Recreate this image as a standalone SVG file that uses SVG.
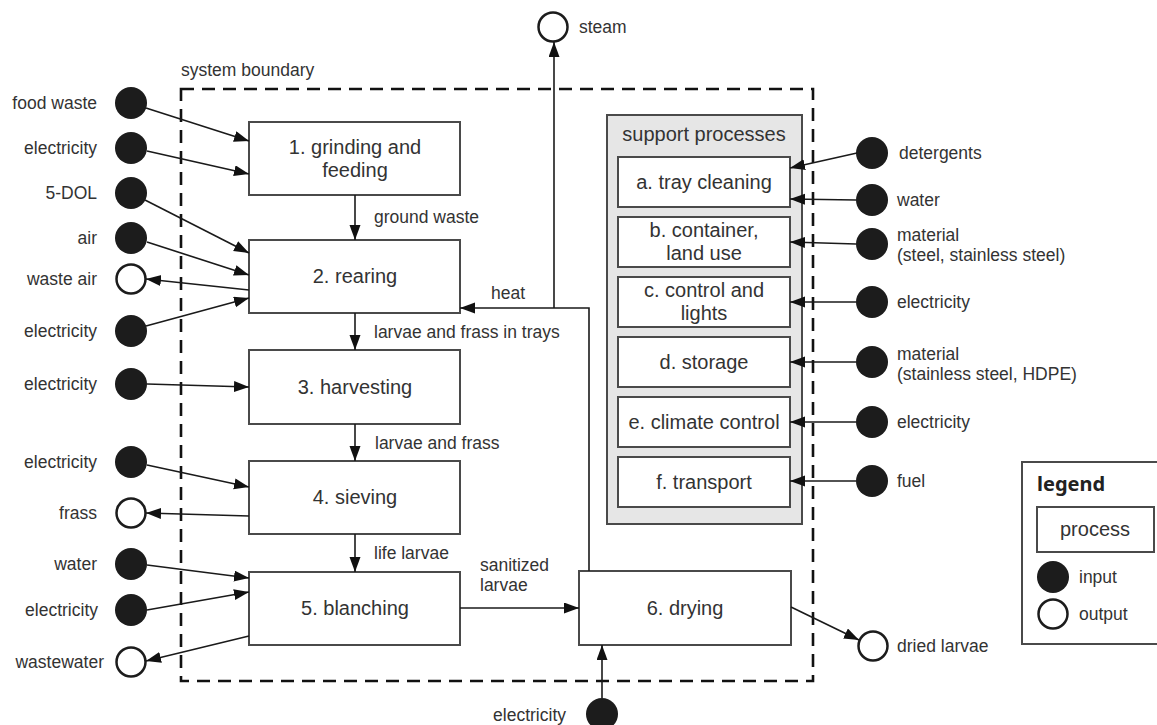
<svg xmlns="http://www.w3.org/2000/svg" width="1157" height="725" viewBox="0 0 1157 725">
<style>
text{font-family:"Liberation Sans",Arial,sans-serif;fill:#333}
.t{font-size:17.5px}
.b{font-size:20px;text-anchor:middle}
.r{text-anchor:end}
.box{fill:#fff;stroke:#4a4a4a;stroke-width:2}
.in{fill:#1c1c1c}
.out{fill:#fff;stroke:#1c1c1c;stroke-width:2.5}
.c{fill:none;stroke:#1a1a1a;stroke-width:1.6;marker-end:url(#ah)}
.p{fill:none;stroke:#1a1a1a;stroke-width:1.6}
</style>
<defs>
<marker id="ah" markerUnits="userSpaceOnUse" markerWidth="16" markerHeight="12" refX="15" refY="5.5" orient="auto">
<path d="M0,0 L15,5.5 L0,11 z" fill="#111"/>
</marker>
</defs>

<g id="boundary">
<rect x="181" y="89" width="632" height="592" fill="none" stroke="#111" stroke-width="2.6" stroke-dasharray="13,8"/>
<text class="t" x="181" y="76">system boundary</text>
</g>

<g id="support">
<rect x="607" y="115" width="195" height="409" fill="#e6e6e6" stroke="#4a4a4a" stroke-width="2"/>
<text class="b" x="704" y="141">support processes</text>
</g>

<g id="p1"><rect class="box" x="249" y="122" width="211" height="73"/><text class="b" x="355" y="154">1. grinding and</text><text class="b" x="355" y="177">feeding</text></g>
<g id="p2"><rect class="box" x="249" y="240" width="211" height="73"/><text class="b" x="355" y="283">2. rearing</text></g>
<g id="p3"><rect class="box" x="249" y="350" width="211" height="74"/><text class="b" x="355" y="394">3. harvesting</text></g>
<g id="p4"><rect class="box" x="249" y="461" width="211" height="73"/><text class="b" x="355" y="504">4. sieving</text></g>
<g id="p5"><rect class="box" x="249" y="572" width="211" height="73"/><text class="b" x="355" y="615">5. blanching</text></g>
<g id="p6"><rect class="box" x="579" y="571" width="212" height="74"/><text class="b" x="685" y="615">6. drying</text></g>

<g id="sa"><rect class="box" x="618" y="157" width="172" height="50"/><text class="b" x="704" y="189">a. tray cleaning</text></g>
<g id="sb"><rect class="box" x="618" y="217" width="172" height="50"/><text class="b" x="704" y="237">b. container,</text><text class="b" x="704" y="260">land use</text></g>
<g id="sc"><rect class="box" x="618" y="277" width="172" height="50"/><text class="b" x="704" y="297">c. control and</text><text class="b" x="704" y="320">lights</text></g>
<g id="sd"><rect class="box" x="618" y="337" width="172" height="50"/><text class="b" x="704" y="369">d. storage</text></g>
<g id="se"><rect class="box" x="618" y="397" width="172" height="50"/><text class="b" x="704" y="429">e. climate control</text></g>
<g id="sf"><rect class="box" x="618" y="457" width="172" height="50"/><text class="b" x="704" y="489">f. transport</text></g>

<g id="left-io">
<circle class="in" cx="131" cy="103" r="16"/><text class="t r" x="97" y="109">food waste</text>
<circle class="in" cx="131" cy="148" r="16"/><text class="t r" x="97" y="154">electricity</text>
<circle class="in" cx="131" cy="193" r="16"/><text class="t r" x="97" y="199">5-DOL</text>
<circle class="in" cx="131" cy="238" r="16"/><text class="t r" x="97" y="244">air</text>
<circle class="out" cx="131" cy="279" r="14.5"/><text class="t r" x="97" y="285">waste air</text>
<circle class="in" cx="131" cy="331" r="16"/><text class="t r" x="97" y="337">electricity</text>
<circle class="in" cx="131" cy="384" r="16"/><text class="t r" x="97" y="390">electricity</text>
<circle class="in" cx="131" cy="462" r="16"/><text class="t r" x="97" y="468">electricity</text>
<circle class="out" cx="131" cy="513" r="14.5"/><text class="t r" x="97" y="519">frass</text>
<circle class="in" cx="131" cy="564" r="16"/><text class="t r" x="97" y="570">water</text>
<circle class="in" cx="131" cy="610" r="16"/><text class="t r" x="98" y="616">electricity</text>
<circle class="out" cx="131" cy="662" r="14.5"/><text class="t r" x="104" y="668">wastewater</text>
</g>

<g id="right-io">
<circle class="in" cx="872" cy="153" r="16"/><text class="t" x="899" y="159">detergents</text>
<circle class="in" cx="872" cy="200" r="16"/><text class="t" x="897" y="206">water</text>
<circle class="in" cx="872" cy="244" r="16"/><text class="t" x="897" y="241">material</text><text class="t" x="897" y="261">(steel, stainless steel)</text>
<circle class="in" cx="872" cy="302" r="16"/><text class="t" x="897" y="308">electricity</text>
<circle class="in" cx="872" cy="362" r="16"/><text class="t" x="897" y="360">material</text><text class="t" x="897" y="380">(stainless steel, HDPE)</text>
<circle class="in" cx="872" cy="422" r="16"/><text class="t" x="897" y="428">electricity</text>
<circle class="in" cx="872" cy="481" r="16"/><text class="t" x="897" y="487">fuel</text>
<circle class="out" cx="873" cy="646" r="14.5"/><text class="t" x="897" y="652">dried larvae</text>
<circle class="out" cx="553" cy="27" r="14.5"/><text class="t" x="579" y="33">steam</text>
<circle class="in" cx="602" cy="714" r="16"/><text class="t r" x="566" y="721">electricity</text>
</g>

<g id="legend">
<rect x="1022" y="462" width="145" height="182" fill="#fff" stroke="#4a4a4a" stroke-width="2"/>
<text x="1037" y="491" style="font-family:'Noto Sans','Open Sans',sans-serif;font-weight:bold;font-size:20px;fill:#222">legend</text>
<rect class="box" x="1037" y="507" width="117" height="45"/>
<text class="b" x="1095" y="536">process</text>
<circle class="in" cx="1053" cy="577" r="16"/><text class="t" x="1079" y="583">input</text>
<circle class="out" cx="1053" cy="614" r="14.5"/><text class="t" x="1079" y="620">output</text>
</g>

<g id="connectors">
<line class="c" x1="146" y1="108" x2="249" y2="141"/>
<line class="c" x1="147" y1="151" x2="249" y2="174"/>
<line class="c" x1="145" y1="200" x2="249" y2="253"/>
<line class="c" x1="147" y1="242" x2="249" y2="275"/>
<line class="c" x1="249" y1="290" x2="146" y2="279"/>
<line class="c" x1="146" y1="326" x2="249" y2="298"/>
<line class="c" x1="147" y1="384" x2="249" y2="387"/>
<line class="c" x1="147" y1="465" x2="249" y2="487"/>
<line class="c" x1="249" y1="516" x2="146" y2="513"/>
<line class="c" x1="147" y1="565" x2="249" y2="578"/>
<line class="c" x1="147" y1="610" x2="249" y2="592"/>
<line class="c" x1="249" y1="636" x2="146" y2="661"/>

<line class="c" x1="355" y1="195" x2="355" y2="240"/>
<line class="c" x1="355" y1="313" x2="355" y2="350"/>
<line class="c" x1="355" y1="424" x2="355" y2="461"/>
<line class="c" x1="355" y1="534" x2="355" y2="572"/>
<text class="t" x="374" y="223">ground waste</text>
<text class="t" x="374" y="338">larvae and frass in trays</text>
<text class="t" x="375" y="449">larvae and frass</text>
<text class="t" x="374" y="559">life larvae</text>

<line class="c" x1="460" y1="608" x2="579" y2="608"/>
<text class="t" x="480" y="571">sanitized</text>
<text class="t" x="480" y="591">larvae</text>

<polyline class="c" points="589,571 589,308 460,308"/>
<line class="c" x1="554" y1="308" x2="554" y2="42"/>
<text class="t" x="491" y="299">heat</text>

<line class="c" x1="602" y1="698" x2="602" y2="645"/>
<line class="c" x1="791" y1="607" x2="859" y2="640"/>

<line class="c" x1="857" y1="153" x2="790" y2="168"/>
<line class="c" x1="856" y1="200" x2="790" y2="199"/>
<line class="c" x1="856" y1="244" x2="790" y2="242"/>
<line class="c" x1="856" y1="302" x2="790" y2="302"/>
<line class="c" x1="856" y1="362" x2="790" y2="362"/>
<line class="c" x1="856" y1="422" x2="790" y2="422"/>
<line class="c" x1="856" y1="481" x2="790" y2="481"/>
</g>
</svg>
